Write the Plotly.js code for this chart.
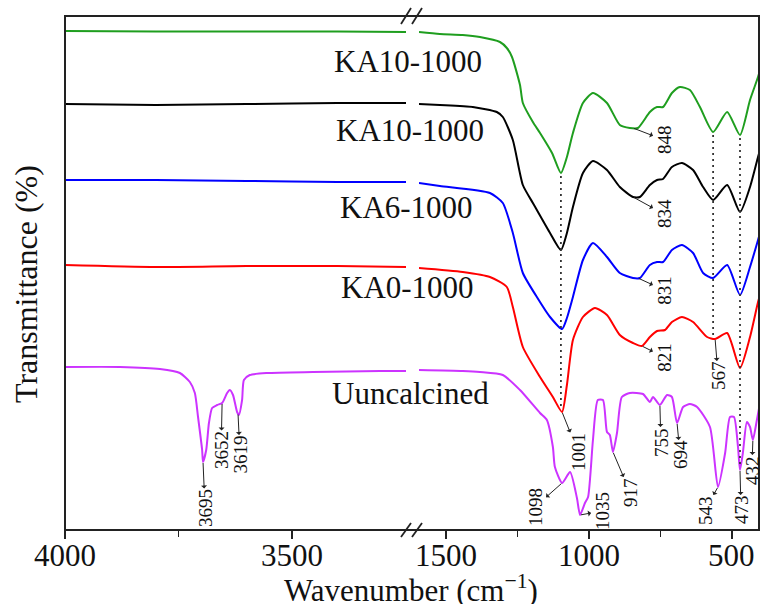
<!DOCTYPE html>
<html><head><meta charset="utf-8">
<script src="https://cdn.plot.ly/plotly-3.0.1.min.js"></script>
<style>html,body{margin:0;padding:0;background:#fff}</style>
</head><body><div id="chart" style="width:760px;height:604px"></div>
<script>
// ---------------- data ----------------
const seriesNames = ['KA10-1000', 'KA10-1000', 'KA6-1000', 'KA0-1000', 'Uuncalcined'];

// KA10-1000 (top, green)
const greenHiWn = [4000, 3800, 3600, 3400, 3249];
const greenHiT  = [499, 498.5, 498.5, 498.5, 498];
const greenLoWn = [1594,1521,1441,1381,1311,1287,1269,1241,1231,1196,1171,1129,1098,1077,1056,1021,986,937,892,857,829,787,762,741,710,682,647,612,566,517,472,437,409,402];
const greenLoT  = [498,496,495,493,488,482,473,445,427,408,397,377,357,373,397,427,437,427,405,402,402,418,423,423,437,443,440,423,398,418,395,430,453,460];

// KA10-1000 (second, black)
const blackHiWn = [4000, 3800, 3600, 3400, 3249];
const blackHiT  = [426, 425, 426, 427, 427];
const blackLoWn = [1594,1521,1406,1322,1301,1266,1231,1196,1182,1136,1098,1077,1056,1021,986,937,892,846,822,787,762,741,710,675,636,601,566,517,472,437,409,402];
const blackLoT  = [426,425,423,418,413,390,345,327,320,297,280,297,323,357,369,360,343,333,333,345,350,351,363,367,360,343,330,345,318,343,373,380];

// KA6-1000 (blue)
const blueHiWn = [4000, 3800, 3600, 3400, 3249];
const blueHiT  = [350, 350, 349, 348, 348];
const blueLoWn = [1594,1521,1346,1301,1266,1231,1182,1136,1094,1077,1056,1021,986,937,892,846,822,787,762,741,710,675,636,601,566,517,472,437,409,402];
const blueLoT  = [347,344,337,327,297,257,233,213,201,212,233,270,287,273,257,252,252,265,268,268,280,285,277,257,252,265,235,263,290,297];

// KA0-1000 (red)
const redHiWn = [4000, 3800, 3600, 3400, 3249];
const redHiT  = [265, 263, 264, 264, 263];
const redLoWn = [1594,1441,1346,1287,1266,1231,1171,1126,1094,1077,1056,1021,979,937,892,846,815,787,762,734,710,675,636,587,559,517,472,437,409,402];
const redLoT  = [262,258,253,243,223,183,153,133,118,145,190,213,222,215,195,187,184,193,199,200,208,213,208,193,191,197,162,193,228,235];

// Uuncalcined (magenta)
const purpleHiWn = [4000,3879,3791,3747,3725,3714,3707,3698,3696,3689,3683,3676,3665,3654,3643,3637,3630,3621,3617,3610,3606,3593,3555,3454,3306,3249];
const purpleHiT  = [163,163,161,157,148,137,113,80,68,80,107,122,125,127,137,140,135,118,115,130,150,155,157,158,159,159];
const purpleLoWn = [1594,1441,1381,1301,1241,1171,1147,1126,1119,1094,1066,1042,1031,1014,1003,986,969,951,937,927,916,902,885,857,811,787,776,752,727,710,692,671,647,622,577,549,524,507,493,479,472,462,448,437,427,413,402];
const purpleLoT  = [160,159,158,155,140,117,110,83,63,47,58,32,15,27,33,90,130,130,98,95,78,97,133,137,136,128,133,125,135,133,107,123,126,123,103,43,77,113,113,83,60,77,108,103,90,110,127];

// peak labels: text, wavenumber where the arrow starts, curve index
const peakText = ['3695','3652','3619','1098','1001','1035','917','755','694','543','473','432','848','834','831','821','567'];
const peakWn   = [3696, 3654, 3619, 1094, 1094, 1031, 916, 752, 692, 549, 472, 427, 846, 846, 829, 815, 559];
const peakOn   = [4, 4, 4, 4, 3, 4, 4, 4, 4, 4, 4, 4, 0, 1, 2, 3, 3];

// dotted guide lines: wavenumber, from curve, to curve
const guideWn   = [1098, 566, 472];
const guideFrom = [0, 0, 0];
const guideTo   = [3, 3, 4];

// axis ticks
const leftTicks = [4000, 3500];
const leftMinor = [3750];
const rightTicks = [1500, 1000, 500];
const rightMinor = [1250, 750];

// ---------------- layout / style ----------------
const W = 760, H = 604;
const M = {l: 65, r: 1, t: 16, b: 74};
const PW = W - M.l - M.r, PH = H - M.t - M.b;
const pxX = x => (x - M.l) / PW;
const pxY = y => (H - M.b - y) / PH;
const FONT = 'Liberation Serif, Times New Roman, serif';
const colors = ['#1f9e1f', '#000000', '#0000ff', '#ff0000', '#cc33ff'];

const series = [
  {hiWn: greenHiWn, hiT: greenHiT, loWn: greenLoWn, loT: greenLoT},
  {hiWn: blackHiWn, hiT: blackHiT, loWn: blackLoWn, loT: blackLoT},
  {hiWn: blueHiWn, hiT: blueHiT, loWn: blueLoWn, loT: blueLoT},
  {hiWn: redHiWn, hiT: redHiT, loWn: redLoWn, loT: redLoT},
  {hiWn: purpleHiWn, hiT: purpleHiT, loWn: purpleLoWn, loT: purpleLoT}
];

function valueAt(s, wn) {
  const xs = wn > 2000 ? s.hiWn : s.loWn;
  const ys = wn > 2000 ? s.hiT : s.loT;
  for (let i = 0; i < xs.length - 1; i++) {
    const a = xs[i], b = xs[i + 1];
    if ((wn <= a && wn >= b) || (wn >= a && wn <= b)) {
      const f = (wn - a) / (b - a);
      return ys[i] + f * (ys[i + 1] - ys[i]);
    }
  }
  return ys[ys.length - 1];
}

const traces = [];
series.forEach((s, i) => {
  const line = {color: colors[i], width: 2, shape: 'spline', smoothing: 0.6};
  traces.push({x: s.hiWn, y: s.hiT, xaxis: 'x', yaxis: 'y', mode: 'lines', line, name: seriesNames[i], hoverinfo: 'skip'});
  traces.push({x: s.loWn, y: s.loT, xaxis: 'x2', yaxis: 'y', mode: 'lines', line, name: seriesNames[i], hoverinfo: 'skip'});
});

// series label placement (pixel right edge, pixel center y)
const labelRight = [484, 486, 475, 476, 491];
const labelY = [61, 130, 207, 287, 393];

// peak label offsets (text center relative to arrow start, px)
const peakOffset = [[2,46],[-1,47],[2,41],[-27,24],[16,40],[22,-4],[17,40],[1,37],[3,32],[-13,23],[1,40],[-1,30],[31,12],[31,17],[26,12],[22,11],[3,37]];

const annotations = [];
seriesNames.forEach((n, i) => {
  annotations.push({text: n, xref: 'paper', yref: 'paper', x: pxX(labelRight[i]), y: pxY(labelY[i]),
    xanchor: 'right', yanchor: 'middle', showarrow: false, font: {family: FONT, size: 31, color: '#111'}});
});
peakText.forEach((t, i) => {
  const wn = peakWn[i];
  annotations.push({text: t, xref: wn > 2000 ? 'x' : 'x2', yref: 'y', x: wn, y: valueAt(series[peakOn[i]], wn),
    ax: peakOffset[i][0], ay: peakOffset[i][1], axref: 'pixel', ayref: 'pixel',
    showarrow: true, arrowside: 'start', arrowhead: 2, arrowsize: 1, arrowwidth: 1, arrowcolor: '#222',
    standoff: 1, startstandoff: 0, textangle: -90, borderpad: 0,
    font: {family: FONT, size: 19, color: '#111'}});
});
// tick labels placed on the axes' own scales
leftTicks.forEach(v => annotations.push({text: String(v), xref: 'x', yref: 'paper', x: v, y: pxY(555),
  xanchor: 'center', yanchor: 'middle', showarrow: false, font: {family: FONT, size: 31, color: '#111'}}));
rightTicks.forEach(v => annotations.push({text: String(v), xref: 'x2', yref: 'paper', x: v, y: pxY(555),
  xanchor: 'center', yanchor: 'middle', showarrow: false, font: {family: FONT, size: 31, color: '#111'}}));
annotations.push({text: 'Wavenumber (cm<sup>\u22121</sup>)', xref: 'paper', yref: 'paper', x: pxX(411), y: pxY(588),
  xanchor: 'center', yanchor: 'middle', showarrow: false, font: {family: FONT, size: 31, color: '#111'}});
annotations.push({text: 'Transmittance (%)', xref: 'paper', yref: 'paper', x: pxX(26), y: pxY(284),
  xanchor: 'center', yanchor: 'middle', textangle: -90, showarrow: false, font: {family: FONT, size: 32, color: '#111'}});

const shapes = [];
shapes.push({type: 'rect', xref: 'paper', yref: 'paper', x0: 0, x1: 1, y0: 0, y1: 1, line: {color: '#222', width: 2}, layer: 'above'});
// break marks
[[530, 7], [16, 8]].forEach(([yc, h]) => {
  [406, 417].forEach(xc => {
    shapes.push({type: 'line', xref: 'paper', yref: 'paper', x0: pxX(xc - 5), x1: pxX(xc + 5), y0: pxY(yc + h), y1: pxY(yc - h),
      line: {color: '#222', width: 1.8}});
  });
});
guideWn.forEach((wn, i) => {
  shapes.push({type: 'line', xref: 'x2', yref: 'y', x0: wn, x1: wn,
    y0: valueAt(series[guideFrom[i]], wn) - 3, y1: valueAt(series[guideTo[i]], wn) + 2,
    line: {color: '#333', width: 1.8, dash: '2px,4px'}});
});

const axisCommon = {showgrid: false, zeroline: false, showline: false, ticks: 'outside', ticklen: 8, tickwidth: 1.5,
  tickcolor: '#222', showticklabels: false, fixedrange: true};

const layout = {
  width: W, height: H, margin: M, paper_bgcolor: '#fff', plot_bgcolor: '#fff', showlegend: false,
  font: {family: FONT, color: '#111'},
  xaxis: Object.assign({}, axisCommon, {domain: [0, pxX(406)], range: [4000, 3249], anchor: 'y',
    tickmode: 'array', tickvals: leftTicks,
    minor: {tickmode: 'array', tickvals: leftMinor, ticks: 'outside', ticklen: 6, tickwidth: 1.5, tickcolor: '#222'}}),
  xaxis2: Object.assign({}, axisCommon, {domain: [pxX(419), 1], range: [1594, 405.6], anchor: 'y',
    tickmode: 'array', tickvals: rightTicks,
    minor: {tickmode: 'array', tickvals: rightMinor, ticks: 'outside', ticklen: 6, tickwidth: 1.5, tickcolor: '#222'}}),
  yaxis: {range: [0, 514], showticklabels: false, ticks: '', showgrid: false, zeroline: false, showline: false, fixedrange: true},
  annotations, shapes
};

Plotly.newPlot('chart', traces, layout, {displayModeBar: false, staticPlot: true});
</script></body></html>
